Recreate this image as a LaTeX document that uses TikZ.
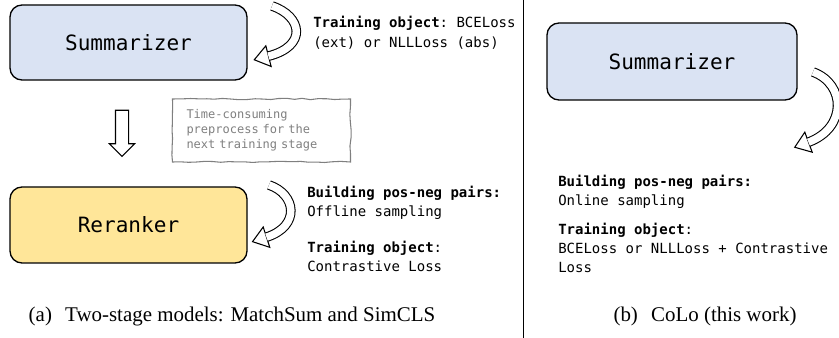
\documentclass[tikz,border=0pt]{standalone}
\usepackage{fontspec}
\setmainfont{Liberation Serif}
\setmonofont{DejaVu Sans Mono}
\usetikzlibrary{shapes.geometric,shapes.arrows,decorations.pathmorphing}

\definecolor{SumBlue}{HTML}{DAE3F3}
\definecolor{RankGold}{HTML}{FFE699}
\definecolor{NoteGray}{HTML}{7F7F7F}

\tikzset{
  model/.style={draw, line width=1pt, rounded corners=9pt, inner sep=0pt,
    font=\fontsize{15.8}{18}\selectfont\ttfamily},
  info/.style={anchor=base west, align=left, inner sep=0pt,
    font=\fontsize{10.5}{14.5}\selectfont\ttfamily},
  loopshaft/.style={draw=black, line width=0.8pt, double=white, double distance=5.6pt,
    shorten >=-0.45pt},
  loophead/.style={isosceles triangle, isosceles triangle stretches, draw, fill=white,
    line width=0.8pt, inner sep=0pt, minimum width=16pt, minimum height=11pt,
    pos=1, sloped, allow upside down, anchor=lower side},
  subcap/.style={font=\fontsize{15.7}{18}\selectfont}
}

\begin{document}
\begin{tikzpicture}[x=0.75pt, y=-0.75pt]
    \pgfmathsetseed{7}
    \useasboundingbox (0,0) rectangle (839,338);

    % (a) two-stage
    \node [model, fill=SumBlue, minimum width=177.75pt, minimum height=56.25pt] (sumA) at (128.5,42.5) {Summarizer};
    \node [model, fill=RankGold, minimum width=177.75pt, minimum height=57pt] (rerank) at (128.5,225) {Reranker};
    \node [single arrow, draw, fill=white, line width=0.8pt, rotate=-90, inner sep=4.5pt,
           minimum height=34.5pt, single arrow head extend=4.5pt] (stage) at (122,130) {};
    \node [draw=NoteGray, line width=0.8pt, decorate, decoration={random steps, segment length=6pt, amplitude=0.5pt},
           text=NoteGray, align=left, text width=112.5pt, inner xsep=10.5pt, minimum height=47.25pt,
           font=\fontsize{9}{11.25}\selectfont\ttfamily] (note) at (261.5,130.5)
           {Time-consuming\\preprocess for the\\next training stage};

    \coordinate (sumA-out)   at (272,6);
    \coordinate (sumA-in)    at (269,56);
    \coordinate (rerank-out) at (269,185);
    \coordinate (rerank-in)  at (267,237);
    \path (sumA-out) .. controls (302,16) and (308,46) .. (sumA-in) node [loophead] {};
    \draw [loopshaft] (sumA-out) .. controls (302,16) and (308,46) .. (sumA-in);
    \path (rerank-out) .. controls (296,194) and (301,226) .. (rerank-in) node [loophead] {};
    \draw [loopshaft] (rerank-out) .. controls (296,194) and (301,226) .. (rerank-in);

    \node [info, font=\fontsize{10.5}{15}\selectfont\ttfamily] (objA) at (313,48) {\textbf{Training object}: BCELoss\\(ext) or NLLLoss (abs)};
    \node [info] (pairA) at (307,217) {\textbf{Building pos-neg pairs:}\\Offline sampling};
    \node [info] (lossA) at (307,272) {\textbf{Training object}:\\Contrastive Loss};
    \node [subcap] (capA) at (232,316) {(a)\hspace{0.63em}Two-stage models: MatchSum and SimCLS};

    % divider
    \coordinate (top) at (523,0);
    \coordinate (bottom) at (523,338);
    \draw [line width=0.6pt] (top) -- (bottom);

    % (b) CoLo
    \node [model, fill=SumBlue, minimum width=187.5pt, minimum height=57.75pt] (sumB) at (672,61.5) {Summarizer};
    \coordinate (sumB-out) at (813,72);
    \coordinate (sumB-in)  at (809,142);
    \path (sumB-out) .. controls (846,84) and (847,128) .. (sumB-in) node [loophead] {};
    \draw [loopshaft] (sumB-out) .. controls (846,84) and (847,128) .. (sumB-in);

    \node [info] (pairB) at (558,206) {\textbf{Building pos-neg pairs:}\\Online sampling};
    \node [info] (lossB) at (558,273) {\textbf{Training object}:\\BCELoss or NLLLoss + Contrastive\\Loss};
    \node [subcap] (capB) at (705,316) {(b)\hspace{0.63em}CoLo (this work)};
\end{tikzpicture}
\end{document}
